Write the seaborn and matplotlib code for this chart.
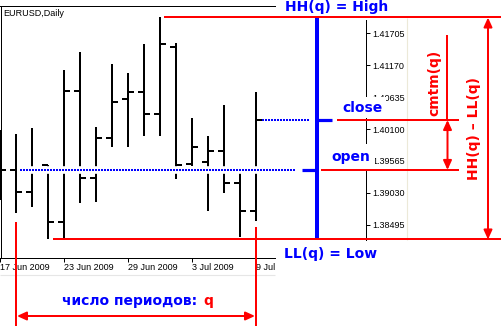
import numpy as np
import pandas as pd
import matplotlib
matplotlib.use("Agg")
import matplotlib.pyplot as plt
import seaborn as sns

# ---------------- data ----------------
dates = ["17 Jun", "18 Jun", "19 Jun", "22 Jun", "23 Jun", "24 Jun", "25 Jun", "26 Jun",
         "29 Jun", "30 Jun", "1 Jul", "2 Jul", "3 Jul", "6 Jul", "7 Jul", "8 Jul", "9 Jul"]
opens = [1.39748, 1.39413, 1.39049, 1.39491, 1.38546, 1.40742, 1.39283, 1.39944, 1.40603,
         1.40726, 1.40352, 1.41480, 1.39513, 1.39552, 1.39731, 1.39190, 1.38725]
highs = [1.40083, 1.40016, 1.40122, 1.39496, 1.41090, 1.41396, 1.40129, 1.41190, 1.41034,
         1.41526, 1.41970, 1.41537, 1.40280, 1.39983, 1.40503, 1.39379, 1.40726]
lows = [1.38909, 1.38686, 1.38797, 1.38247, 1.38255, 1.38864, 1.38871, 1.39803, 1.39803,
        1.39988, 1.39988, 1.39257, 1.39480, 1.38730, 1.39022, 1.38294, 1.38562]
closes = [1.39413, 1.39049, 1.39413, 1.38546, 1.40742, 1.39283, 1.39954, 1.40558, 1.40726,
          1.40352, 1.41526, 1.39496, 1.39793, 1.39731, 1.39190, 1.38725, 1.40251]
date_ticks = [0, 4, 8, 12, 16]
date_labels = ["17 Jun 2009", "23 Jun 2009", "29 Jun 2009", "3 Jul 2009", "9 Jul"]
price_ticks = [1.38495, 1.39030, 1.39565, 1.40100, 1.40635, 1.41170, 1.41705]
title = "EURUSD,Daily"

df = pd.DataFrame({"date": dates, "open": opens, "high": highs, "low": lows, "close": closes})
df["i"] = np.arange(len(df))

# ---------------- style ----------------
sns.set_style("white", {"axes.edgecolor": "black"})
plt.rcParams["font.family"] = ["Liberation Sans", "DejaVu Sans"]

# layout helpers (pixel -> data) for annotation placement
K = 0.0001677
P0 = 1.422634
BAR_PX = 16.0


def py2y(py):
    return P0 - K * py


def px2x(px):
    return px / BAR_PX


W, H = 501, 329
fig = plt.figure(figsize=(W / 100, H / 100), dpi=100)
ax = fig.add_axes([0, 0, 1, 1])
ax.set_xlim(0, px2x(W))
ax.set_ylim(py2y(H), py2y(0))
ax.set_facecolor("white")
ax.grid(False)

BLUE = "#0000ff"
RED = "#ff0000"
LW2 = 1.44  # 2 px

# ---------------- OHLC bars ----------------
tick = 0.375
ax.vlines(df["i"], df["low"], df["high"], color="black", lw=LW2, zorder=3)
ax.hlines(df["open"], df["i"] - tick, df["i"], color="black", lw=LW2, zorder=3)
ax.hlines(df["close"], df["i"], df["i"] + tick, color="black", lw=LW2, zorder=3)

q = df.iloc[1:]
hh = q["high"].max()
ll = q["low"].min()
open_lvl = q["open"].iloc[0]
close_lvl = q["close"].iloc[-1]

# dotted blue guides
ax.hlines(open_lvl, px2x(20), px2x(296), color="white", lw=5.5, zorder=4)
ax.plot([px2x(20), px2x(296)], [open_lvl, open_lvl], color=BLUE, lw=LW2,
        ls=(0, (1, 0.5)), zorder=5)
ax.plot([px2x(262), px2x(310)], [close_lvl, close_lvl], color=BLUE, lw=LW2,
        ls=(0, (1, 0.5)), zorder=5)

# big blue summary bar
ax.vlines(px2x(317), ll, hh, color=BLUE, lw=2.88, zorder=6)
ax.hlines(open_lvl, px2x(302), px2x(317), color=BLUE, lw=2.3, zorder=6)
ax.hlines(close_lvl, px2x(317), px2x(332), color=BLUE, lw=2.3, zorder=6)

# red level lines
ax.hlines(hh, px2x(164), px2x(W), color=RED, lw=LW2, zorder=7)
ax.hlines(ll, px2x(53), px2x(W), color=RED, lw=LW2, zorder=7)
ax.hlines(close_lvl, px2x(337), px2x(459), color=RED, lw=LW2, zorder=7)
ax.hlines(open_lvl, px2x(321), px2x(459), color=RED, lw=LW2, zorder=7)
ax.vlines(df["i"].iloc[1], py2y(326), py2y(222), color=RED, lw=LW2, zorder=7)
ax.vlines(df["i"].iloc[-1], py2y(326), py2y(227), color=RED, lw=LW2, zorder=7)
ax.vlines(px2x(447.5), close_lvl, py2y(35), color=RED, lw=LW2, zorder=7)

arrow = dict(arrowstyle="<|-|>,head_length=0.55,head_width=0.25", color=RED, lw=LW2,
             shrinkA=0, shrinkB=0, mutation_scale=10)
ax.annotate("", xy=(df["i"].iloc[1] + 0.06, py2y(316)),
            xytext=(df["i"].iloc[-1] - 0.06, py2y(316)), arrowprops=arrow, zorder=8)
ax.annotate("", xy=(px2x(447.5), close_lvl), xytext=(px2x(447.5), open_lvl),
            arrowprops=arrow, zorder=8)
ax.annotate("", xy=(px2x(488), hh), xytext=(px2x(488), ll),
            arrowprops=arrow, zorder=8)

# faint window separators
ax.vlines(px2x(407), py2y(240), py2y(18), color="#ece9d8", lw=0.8, zorder=1)
ax.hlines(py2y(275), 0, px2x(275), color="#e6e6e6", lw=0.8, zorder=1)

# ---------------- frame / axes ----------------
for s in ax.spines.values():
    s.set_visible(True)
    s.set_color("black")
    s.set_linewidth(0.72)
ax.spines["left"].set_position(("data", px2x(0.5)))
ax.spines["left"].set_bounds(py2y(257.5), py2y(5.5))
ax.spines["top"].set_position(("data", py2y(5.5)))
ax.spines["top"].set_bounds(0, px2x(275))
ax.spines["bottom"].set_position(("data", py2y(257.5)))
ax.spines["bottom"].set_bounds(0, px2x(275))
ax.spines["right"].set_position(("data", px2x(366.5)))
ax.spines["right"].set_bounds(py2y(240), py2y(20))

ax.set_xticks(date_ticks, date_labels)
ax.set_yticks(price_ticks, [f"{p:.5f}" for p in price_ticks])
ax.tick_params(axis="x", bottom=True, top=False, labelbottom=True, labeltop=False,
               direction="out", length=2.9, width=0.72, pad=1.0, labelsize=6.5,
               colors="black")
ax.tick_params(axis="y", right=True, left=False, labelright=True, labelleft=False,
               direction="out", length=2.9, width=0.72, pad=1.2, labelsize=6.5,
               colors="black")
for lab in ax.get_xticklabels():
    lab.set_horizontalalignment("left")

# ---------------- texts ----------------
ax.text(px2x(3), py2y(13.5), title, fontsize=6.5, ha="left", va="center", color="black")

bold = dict(family="DejaVu Sans", weight="bold", fontsize=10)
ax.text(px2x(285), py2y(10.5), "HH(q) = High", color=BLUE, ha="left", va="baseline", **bold)
ax.text(px2x(284), py2y(258), "LL(q) = Low", color=BLUE, ha="left", va="baseline", **bold)
ax.text(px2x(342), py2y(111.7), "close", color=BLUE, ha="left", va="baseline", zorder=6.5,
        bbox=dict(facecolor="white", edgecolor="none", boxstyle="square,pad=0.25"), **bold)
ax.text(px2x(331), py2y(160.7), "open", color=BLUE, ha="left", va="baseline", zorder=6.5,
        bbox=dict(facecolor="white", edgecolor="none", boxstyle="square,pad=0.4"), **bold)
ax.text(px2x(62), py2y(305.5), "число периодов:", color=BLUE, ha="left", va="baseline", **bold)
ax.text(px2x(203), py2y(305.5), "q", color=RED, ha="left", va="baseline", **bold)
ax.text(px2x(434), py2y(82.5), "cmtm(q)", color=RED, rotation=90, ha="center", va="center", **bold)
ax.text(px2x(474), py2y(129), "HH(q) – LL(q)", color=RED, rotation=90, ha="center",
        va="center", **bold)

fig.savefig("out.png", dpi=100, facecolor="white")
